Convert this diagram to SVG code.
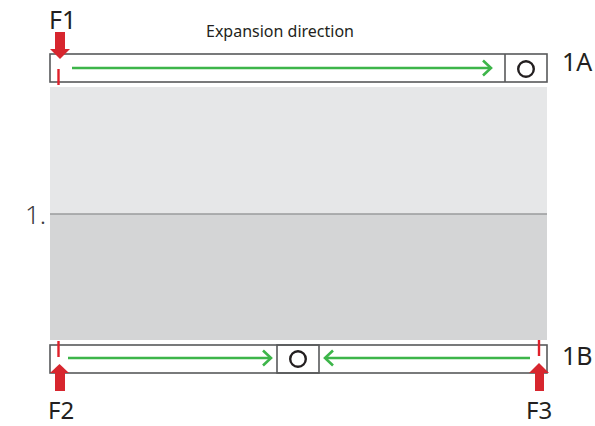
<svg xmlns="http://www.w3.org/2000/svg" width="595" height="426" viewBox="0 0 595 426">
<style>
.bar{fill:#fff;stroke:#58595b;stroke-width:1.6}
.lbl{font-family:"Noto Sans","Liberation Sans",sans-serif;fill:#231f20}
.g{stroke:#3db54a;stroke-width:2.6;fill:none}
.red{fill:#d7262e}
.tick{stroke:#e0202a;stroke-width:2.4}
.o{fill:none;stroke:#231f20;stroke-width:2.4}
</style>
<rect width="595" height="426" fill="#fff"/>
<g id="zone1">
<rect x="50" y="87" width="497" height="127" fill="#e6e7e8"/>
<rect x="50" y="214" width="497" height="126" fill="#d4d5d6"/>
<line x1="50" y1="214" x2="547" y2="214" stroke="#9a9b9d" stroke-width="1.6"/>
<text class="lbl" x="25" y="224" font-size="26" font-weight="300" style="fill:#3a3a3c">1.</text>
</g>
<g id="bar1A">
<rect class="bar" x="50" y="54" width="497" height="28"/>
<line x1="505" y1="54" x2="505" y2="82" stroke="#58595b" stroke-width="1.6"/>
<circle class="o" cx="526" cy="69" r="7.8"/>
<text class="lbl" x="562" y="71" font-size="25">1A</text>
</g>
<g id="bar1B">
<rect class="bar" x="50" y="345" width="497" height="28"/>
<rect x="277" y="345" width="42" height="28" fill="none" stroke="#58595b" stroke-width="1.6"/>
<circle class="o" cx="298" cy="359" r="7.8"/>
<text class="lbl" x="562" y="365" font-size="25">1B</text>
</g>
<g id="F1">
<rect class="red" x="55" y="32" width="10" height="18"/>
<polygon class="red" points="50,49 70,49 60,59"/>
<line class="tick" x1="58.5" y1="69" x2="58.5" y2="85"/>
<text class="lbl" x="49" y="29" font-size="25">F1</text>
</g>
<g id="F2">
<rect class="red" x="55" y="372" width="10" height="19"/>
<polygon class="red" points="50,373 69,373 59.5,364"/>
<line class="tick" x1="58.5" y1="341" x2="58.5" y2="357"/>
<text class="lbl" x="48" y="419" font-size="24">F2</text>
</g>
<g id="F3">
<rect class="red" x="535" y="372" width="9" height="19"/>
<polygon class="red" points="529,373 549,373 539,363"/>
<line class="tick" x1="539" y1="340" x2="539" y2="356"/>
<text class="lbl" x="526" y="419" font-size="24">F3</text>
</g>
<g id="connectors">
<line class="g" x1="72" y1="68" x2="491" y2="68"/>
<polyline class="g" points="483,60.5 491,68 483,75.5"/>
<line class="g" x1="68" y1="358" x2="271" y2="358"/>
<polyline class="g" points="263,350.5 271,358 263,365.5"/>
<line class="g" x1="325" y1="358" x2="530" y2="358"/>
<polyline class="g" points="333,350.5 325,358 333,365.5"/>
</g>
<text class="lbl" x="280" y="37" font-size="16" text-anchor="middle">Expansion direction</text>
</svg>
